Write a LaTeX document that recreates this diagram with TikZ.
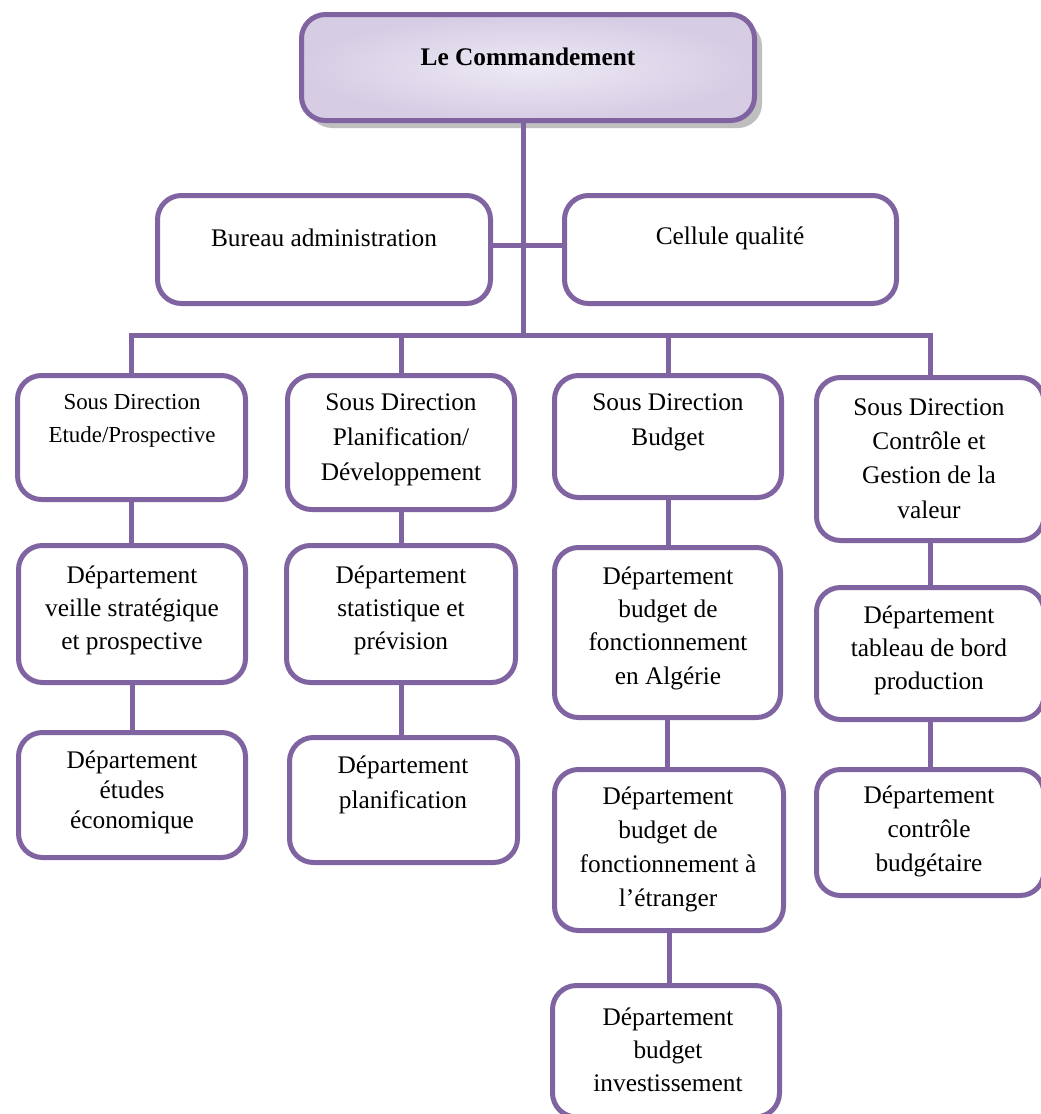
\documentclass[tikz,border=0pt]{standalone}
\usepackage{fontspec}
\setmainfont{Liberation Serif}
\usetikzlibrary{fit,calc}
\definecolor{orgline}{HTML}{8064A2}
\definecolor{headin}{HTML}{EDE9F4}
\definecolor{headout}{HTML}{D6CCE4}
\tikzset{
  box/.style={draw=orgline, line width=3.75pt, rounded corners=18pt, inner sep=0pt, fill=white},
  headbox/.style={box, inner color=headin, outer color=headout},
  txt/.style={align=center, inner sep=0pt, font=\fontsize{19}{25.5}\selectfont},
  link/.style={draw=orgline, line width=3.75pt}
}
\begin{document}
\begin{tikzpicture}[x=0.75pt,y=-0.75pt]
\useasboundingbox (0,0) rectangle (1041,1114);
\clip (0,0) rectangle (1041,1114);
\fill[white] (0,0) rectangle (1041,1114);

% soft shadow under the head box
\fill[black!45, rounded corners=18pt] (306,20) rectangle (760,126);
\fill[black!25, rounded corners=18pt] (308,22) rectangle (762,128);

% boxes
\node[headbox, fit={(301.5,14.5) (754.5,120.5)}] (top) {};
\node[box, fit={(157.5,195.5) (490.5,303.5)}] (bureau) {};
\node[box, fit={(564.5,195.5) (896.5,303.5)}] (cellule) {};

\node[box, fit={(17.5,375.5) (245.5,499.5)}] (sd1) {};
\node[box, fit={(287.5,375.5) (514.5,509.5)}] (sd2) {};
\node[box, fit={(554.5,375.5) (781.5,497.5)}] (sd3) {};
\node[box, fit={(816.5,377.5) (1044,540.5)}] (sd4) {};

\node[box, fit={(18.5,545.5) (245.5,682.5)}] (d11) {};
\node[box, fit={(18.5,732.5) (245.5,857.5)}] (d12) {};
\node[box, fit={(286.5,545.5) (515.5,682.5)}] (d21) {};
\node[box, fit={(289.5,737.5) (517.5,862.5)}] (d22) {};
\node[box, fit={(554.5,547.5) (780.5,717.5)}] (d31) {};
\node[box, fit={(554.5,769.5) (783.5,930.5)}] (d32) {};
\node[box, fit={(552.5,985.5) (779.5,1117)}] (d33) {};
\node[box, fit={(816.5,587.5) (1044,719.5)}] (d41) {};
\node[box, fit={(816.5,769.5) (1044,895.5)}] (d42) {};

% connector skeleton
\coordinate (trunk) at (523,120.5);
\coordinate (bus) at (523,335);
\coordinate (side) at (523,245);

% texts
\node[txt, font=\bfseries\fontsize{19}{25.5}\selectfont] (top-t) at (528,57) {Le Commandement};
\node[txt] (bureau-t) at (324,238) {Bureau administration};
\node[txt] (cellule-t) at (730,238) {Cellule qualité};

\node[txt, font=\fontsize{17.2}{24.75}\selectfont] (sd1-t) at (132,420.5) {Sous Direction\\Etude/Prospective};
\node[txt, font=\fontsize{19}{26.25}\selectfont] (sd2-t) at (401,440) {Sous Direction\\Planification/\\Développement};
\node[txt, font=\fontsize{19}{26.25}\selectfont] (sd3-t) at (668,422.5) {Sous Direction\\Budget};
\node[txt, font=\fontsize{19}{25.75}\selectfont] (sd4-t) at (929,458.5) {Sous Direction\\Contrôle et\\Gestion de la\\valeur};

\node[txt, font=\fontsize{19}{24.75}\selectfont] (d11-t) at (132,610) {Département\\veille stratégique\\et prospective};
\node[txt, font=\fontsize{19}{22.5}\selectfont] (d12-t) at (132,792) {Département\\études\\économique};
\node[txt, font=\fontsize{19}{24.75}\selectfont] (d21-t) at (401,610) {Département\\statistique et\\prévision};
\node[txt, font=\fontsize{19}{26.25}\selectfont] (d22-t) at (403,784.5) {Département\\planification};
\node[txt, font=\fontsize{19}{25}\selectfont] (d31-t) at (668,628) {Département\\budget de\\fonctionnement\\en Algérie};
\node[txt, font=\fontsize{19}{25.5}\selectfont] (d32-t) at (668,849) {Département\\budget de\\fonctionnement à\\l’étranger};
\node[txt, font=\fontsize{19}{24.75}\selectfont] (d33-t) at (668,1050) {Département\\budget\\investissement};
\node[txt, font=\fontsize{19}{24.75}\selectfont] (d41-t) at (929,650) {Département\\tableau de bord\\production};
\node[txt, font=\fontsize{19}{25.5}\selectfont] (d42-t) at (929,831) {Département\\contrôle\\budgétaire};

% connectors
\draw[link] (trunk) -- (bus);
\draw[link] (bureau.east |- side) -- (cellule.west |- side);
\draw[link, line cap=rect] (sd1.north |- bus) -- (sd4.north |- bus);
\draw[link] (sd1.north |- bus) -- (sd1.north);
\draw[link] (sd2.north |- bus) -- (sd2.north);
\draw[link] (sd3.north |- bus) -- (sd3.north);
\draw[link] (sd4.north |- bus) -- (sd4.north);

\draw[link] (sd1.south) -- (sd1.south |- d11.north);
\draw[link] (d11.south) -- (d11.south |- d12.north);
\draw[link] (sd2.south) -- (sd2.south |- d21.north);
\draw[link] (d21.south) -- (d21.south |- d22.north);
\draw[link] (sd3.south) -- (sd3.south |- d31.north);
\draw[link] (d31.south) -- (d31.south |- d32.north);
\draw[link] (d32.south) -- (d32.south |- d33.north);
\draw[link] (sd4.south) -- (sd4.south |- d41.north);
\draw[link] (d41.south) -- (d41.south |- d42.north);
\end{tikzpicture}
\end{document}
